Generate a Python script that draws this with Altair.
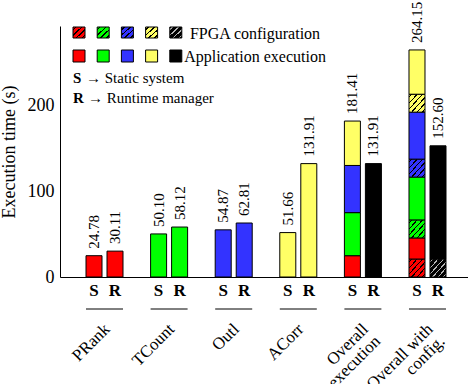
import altair as alt
import pandas as pd

SERIF = "Liberation Serif"

# Benchmarks, their colours, and the measured times (seconds)
groups = ["PRank", "TCount", "Outl", "ACorr", "Overall\nexecution", "Overall with\nconfig."]
apps = ["PRank", "TCount", "Outl", "ACorr"]
app_colors = ["#ff0000", "#00ff00", "#3333ff", "#ffff66"]
manager_color = "#000000"
static_exec = [24.78, 50.10, 54.87, 51.66]
runtime_exec = [30.11, 58.12, 62.81, 131.91]
static_config = [20.68, 20.69, 20.68, 20.69]
runtime_overall_exec = 131.91
runtime_config = 20.69

keys = apps + ["Manager"]
colors = app_colors + [manager_color]
hatch_lines = ["#000000"] * 4 + ["#b4b4b4"]

# Stacked segments: one row per coloured block of a bar
rows = []


def add(g, sys, base, val, key, hatched):
    rows.append(dict(g=g, sys=sys, y0=base, y1=base + val, key=key, hatched=hatched))
    return base + val


for i, app in enumerate(apps):
    add(i, "S", 0, static_exec[i], app, False)
    add(i, "R", 0, runtime_exec[i], app, False)
base = 0
for i, app in enumerate(apps):
    base = add(4, "S", base, static_exec[i], app, False)
add(4, "R", 0, runtime_overall_exec, "Manager", False)
base = 0
for i, app in enumerate(apps):
    base = add(5, "S", base, static_config[i], app, True)
    base = add(5, "S", base, static_exec[i], app, False)
base = add(5, "R", 0, runtime_config, "Manager", True)
add(5, "R", base, runtime_overall_exec, "Manager", False)
segments = pd.DataFrame(rows)
group_df = pd.DataFrame({"g": list(range(len(groups))), "name": groups})
legend_df = pd.DataFrame({"key": keys, "i": list(range(len(keys)))})


def hatch(fill, line, n, width):
    """Diagonal '/' stripes drawn with a hard-stop linear gradient."""
    stops = [alt.GradientStop(offset=0, color=fill)]
    for k in range(n):
        c = (k + 0.5) / n
        lo, hi = c - width / 2, c + width / 2
        stops += [
            alt.GradientStop(offset=lo, color=fill),
            alt.GradientStop(offset=lo, color=line),
            alt.GradientStop(offset=hi, color=line),
            alt.GradientStop(offset=hi, color=fill),
        ]
    stops.append(alt.GradientStop(offset=1, color=fill))
    return alt.LinearGradient(gradient="linear", stops=stops, x1=0, y1=0, x2=1, y2=1)


# Every layer carries the same scale and axis definitions so they merge into one pair of axes
x_scale = alt.Scale(domain=[-0.689, 5.627], nice=False, zero=False)
y_scale = alt.Scale(domain=[0, 292], nice=False)
x_axis = alt.Axis(title=None, labels=False, ticks=False, grid=False,
                  domainColor="black", domainWidth=1)
y_axis = alt.Axis(title="Execution time (s)", values=[0, 100, 200], ticks=False, grid=False,
                  domainColor="black", domainWidth=1,
                  labelFont=SERIF, labelFontSize=18, labelColor="black", labelPadding=6,
                  titleFont=SERIF, titleFontSize=18, titleFontWeight="normal",
                  titleColor="black", titlePadding=9)


def X(field):
    return alt.X(field, scale=x_scale, axis=x_axis)


def Y(field):
    return alt.Y(field, scale=y_scale, axis=y_axis)


seg_base = alt.Chart(segments).transform_calculate(
    xc="datum.g + (datum.sys == 'S' ? -0.1626 : 0.1626)"
).transform_calculate(
    xa="datum.xc - 0.1239", xb="datum.xc + 0.1239"
)

solid = seg_base.transform_filter("!datum.hatched").mark_rect(
    stroke="black", strokeWidth=1
).encode(
    x=X("xa:Q"), x2="xb:Q", y=Y("y0:Q"), y2="y1:Q",
    color=alt.Color("key:N", scale=alt.Scale(domain=keys, range=colors), legend=None),
)

hatched_layers = []
for key, col, line in zip(keys, colors, hatch_lines):
    hatched_layers.append(
        seg_base.transform_filter(f"datum.hatched && datum.key == '{key}'").mark_rect(
            fill=hatch(col, line, 6, 0.04), stroke="black", strokeWidth=1
        ).encode(x=X("xa:Q"), x2="xb:Q", y=Y("y0:Q"), y2="y1:Q")
    )

bar_tops = seg_base.transform_aggregate(total="max(y1)", groupby=["g", "sys", "xc"])

value_labels = bar_tops.mark_text(
    angle=270, align="left", baseline="middle", dx=7,
    font=SERIF, fontSize=15, color="black"
).encode(
    x=X("xc:Q"), y=Y("total:Q"),
    text=alt.Text("total:Q", format=".2f"),
)

sys_labels = bar_tops.mark_text(
    align="center", baseline="middle", font=SERIF, fontSize=17,
    fontWeight="bold", color="black"
).encode(x=X("xc:Q"), y=alt.value(265), text="sys:N")

group_base = alt.Chart(group_df).transform_calculate(
    ga="datum.g - 0.2864", gb="datum.g + 0.2864", gl="datum.g - 0.045"
)

underlines = group_base.mark_rule(color="black", strokeWidth=1).encode(
    x=X("ga:Q"), x2="gb:Q", y=alt.value(283),
)

group_labels = group_base.mark_text(
    angle=315, align="right", baseline="top", font=SERIF, fontSize=17,
    lineBreak="\n", lineHeight=17, color="black"
).encode(x=X("gl:Q"), y=alt.value(295), text="name:N")

# Key in the upper-left corner of the plot (pixel positions inside the view)
leg_base = alt.Chart(legend_df).transform_calculate(
    px="13 + 24.2 * datum.i", px2="13 + 24.2 * datum.i + 12"
)
leg_hatched = []
for key, col, line in zip(keys, colors, hatch_lines):
    leg_hatched.append(
        leg_base.transform_filter(f"datum.key == '{key}'").mark_rect(
            fill=hatch(col, line, 4, 0.07), stroke="black", strokeWidth=1
        ).encode(
            x=alt.X("px:Q", scale=None), x2="px2:Q",
            y=alt.value(1), y2=alt.value(12),
        )
    )
leg_solid = leg_base.mark_rect(stroke="black", strokeWidth=1).encode(
    x=alt.X("px:Q", scale=None), x2="px2:Q",
    y=alt.value(24), y2=alt.value(36),
    color=alt.Color("key:N", scale=alt.Scale(domain=keys, range=colors), legend=None),
)

one = alt.Data(values=[{}])


def note(text, x, y, align="left", bold=False, size=15):
    return alt.Chart(one).mark_text(
        align=align, baseline="middle", font=SERIF, fontSize=size,
        fontWeight="bold" if bold else "normal", color="black"
    ).encode(x=alt.value(x), y=alt.value(y), text=alt.value(text))


notes = [
    note("FPGA configuration", 195, 8, align="center", size=16),
    note("Application execution", 195, 31, align="center", size=16),
    note("S", 13, 52, bold=True),
    note("\u2192 Static system", 26, 52),
    note("R", 13, 72, bold=True),
    note("\u2192 Runtime manager", 28, 72),
]

chart = alt.layer(
    solid, *hatched_layers, value_labels, sys_labels, underlines, group_labels,
    *leg_hatched, leg_solid, *notes
).properties(
    width=408,
    height=251,
    autosize=alt.AutoSizeParams(type="none"),
    padding={"left": 60, "top": 26, "right": 0, "bottom": 107},
    background="white",
).configure_view(stroke=None)

chart.save("out.html", embed_options={"renderer": "svg", "actions": False})
